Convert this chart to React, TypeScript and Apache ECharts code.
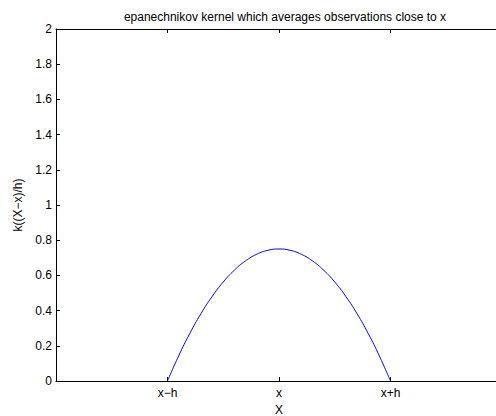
import React, { useEffect, useRef } from "react";
import * as echarts from "echarts";

const titleText = "epanechnikov kernel which averages observations close to x";
const xAxisName = "X";
const yAxisName = "k((X\u2212x)/h)";
const xTickLabels: Record<string, string> = { "-1": "x\u2212h", "0": "x", "1": "x+h" };
// readings of the curve (u = (X - x)/h, k value)
const uValues = [-1, -0.9, -0.8, -0.7, -0.6, -0.5, -0.4, -0.3, -0.2, -0.1, 0, 0.1, 0.2, 0.3, 0.4, 0.5, 0.6, 0.7, 0.8, 0.9, 1];
const kValues = [0, 0.1425, 0.27, 0.3825, 0.48, 0.5625, 0.63, 0.6825, 0.72, 0.7425, 0.75, 0.7425, 0.72, 0.6825, 0.63, 0.5625, 0.48, 0.3825, 0.27, 0.1425, 0];

export default function App() {
  const ref = useRef<HTMLDivElement>(null);
  useEffect(() => {
    document.body.style.margin = "0";
    if (!ref.current) return;
    const chart = echarts.init(ref.current, null, { renderer: "svg" });
    const font = "Liberation Sans, Arial, Helvetica, sans-serif";
    chart.setOption({
      animation: false,
      backgroundColor: "#ffffff",
      title: {
        text: titleText,
        left: 280,
        top: 6,
        textAlign: "center",
        textStyle: { fontSize: 12, fontWeight: "normal", color: "#000", fontFamily: font },
      },
      grid: { left: 56, top: 29, width: 446, height: 352, containLabel: false, outerBoundsMode: "none" },
      xAxis: [
        {
          type: "value",
          min: -2,
          max: 2,
          interval: 1,
          position: "bottom",
          name: xAxisName,
          nameLocation: "middle",
          nameGap: 22,
          nameTextStyle: { fontSize: 12, color: "#000", fontFamily: font },
          axisLine: { show: true, onZero: false, lineStyle: { color: "#000", width: 1 } },
          axisTick: { show: true, inside: true, length: 4, lineStyle: { color: "#000" } },
          axisLabel: {
            fontSize: 12,
            color: "#000",
            fontFamily: font,
            margin: 6,
            formatter: (v: number) => xTickLabels[String(v)] ?? "",
          },
          splitLine: { show: false },
        },
        {
          type: "value",
          min: -2,
          max: 2,
          interval: 1,
          position: "top",
          axisLine: { show: true, onZero: false, lineStyle: { color: "#000", width: 1 } },
          axisTick: { show: true, inside: true, length: 4, lineStyle: { color: "#000" } },
          axisLabel: { show: false },
          splitLine: { show: false },
        },
      ],
      yAxis: [
        {
          type: "value",
          min: 0,
          max: 2,
          interval: 0.2,
          name: yAxisName,
          nameLocation: "middle",
          nameGap: 24,
          nameRotate: 90,
          nameTextStyle: { fontSize: 12, color: "#000", fontFamily: font },
          axisLine: { show: true, onZero: false, lineStyle: { color: "#000", width: 1 } },
          axisTick: { show: true, inside: true, length: 4, lineStyle: { color: "#000" } },
          axisLabel: { fontSize: 12, color: "#000", fontFamily: font, margin: 4 },
          splitLine: { show: false },
        },
      ],
      series: [
        {
          type: "line",
          data: uValues.map((u, i) => [u, kValues[i]]),
          smooth: true,
          showSymbol: false,
          symbol: "none",
          lineStyle: { color: "#0000ff", width: 1 },
        },
      ],
    });
    return () => chart.dispose();
  }, []);
  return <div ref={ref} style={{ width: 496, height: 416 }} />;
}
